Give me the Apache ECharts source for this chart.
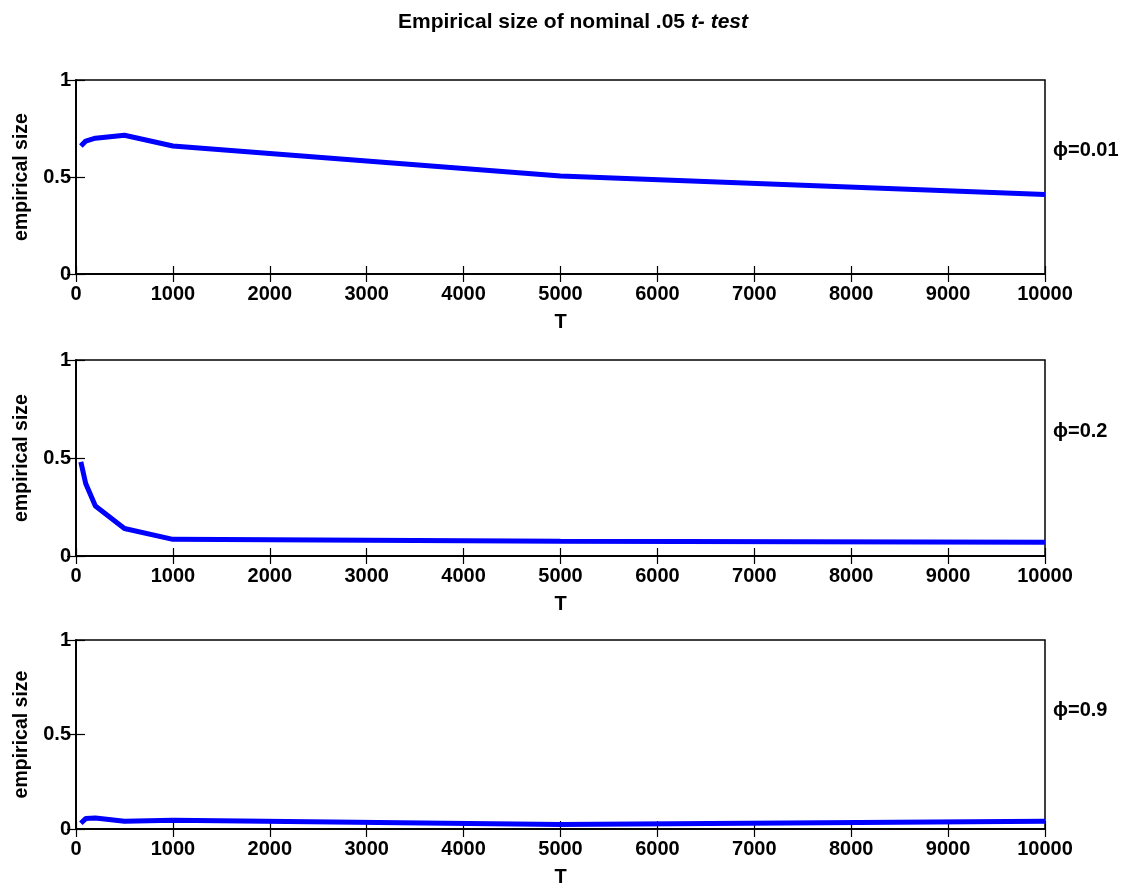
<!DOCTYPE html>
<html>
<head>
<meta charset="utf-8">
<script src="https://cdn.jsdelivr.net/npm/echarts@6/dist/echarts.min.js"></script>
<style>
html,body{margin:0;padding:0;background:#fff;}
#c{width:1124px;height:888px;}
</style>
</head>
<body>
<div id="c"></div>
<script>
const T = [50, 100, 200, 500, 1000, 5000, 10000];
const size_phi001 = [0.66, 0.685, 0.70, 0.715, 0.66, 0.505, 0.41];
const size_phi02 = [0.48, 0.37, 0.255, 0.14, 0.085, 0.075, 0.07];
const size_phi09 = [0.03, 0.055, 0.058, 0.041, 0.046, 0.024, 0.041];
const panelLabels = ['ϕ=0.01', 'ϕ=0.2', 'ϕ=0.9'];
const xTicks = [0, 10000, 1000];
const yTicks = [0, 1, 0.5];

const FONT = 'Liberation Sans, Arial, Helvetica, sans-serif';
const seriesData = [size_phi001, size_phi02, size_phi09];
const grids = [
  {left: 76, right: 79, top: 80, height: 194},
  {left: 76, right: 79, top: 360, height: 196},
  {left: 76, right: 79, top: 640, height: 194}
];
const labelTops = [135, 416, 695];

const xAxes = [], yAxes = [], series = [], titles = [];
titles.push({
  text: '{n|Empirical size of nominal .05 }{i|t- test}',
  left: 568, textAlign: 'center', top: 7,
  textStyle: {
    rich: {
      n: {fontFamily: FONT, fontSize: 21, fontWeight: 'bold', color: '#000'},
      i: {fontFamily: FONT, fontSize: 21, fontWeight: 'bold', fontStyle: 'italic', color: '#000'}
    }
  }
});
grids.forEach((g, i) => {
  g.show = true; g.borderColor = '#000'; g.borderWidth = 1.5; g.backgroundColor = '#fff';
  xAxes.push({
    type: 'value', gridIndex: i, min: xTicks[0], max: xTicks[1], interval: xTicks[2],
    position: 'bottom', name: 'T', nameLocation: 'middle', nameGap: 38,
    nameTextStyle: {fontFamily: FONT, fontSize: 20, fontWeight: 'bold', color: '#000'},
    axisLine: {show: true, lineStyle: {color: '#000', width: 1.5}},
    axisTick: {show: true, inside: true, length: 8, lineStyle: {color: '#000', width: 1.2}},
    axisLabel: {fontFamily: FONT, fontSize: 20, fontWeight: 'bold', color: '#000', margin: 10,
      formatter: v => String(v)},
    splitLine: {show: false}
  });
  xAxes.push({
    type: 'value', gridIndex: i, min: xTicks[0], max: xTicks[1], interval: xTicks[2],
    position: 'top',
    axisLine: {show: true, lineStyle: {color: '#000', width: 1.5}},
    axisTick: {show: true, inside: true, length: 8, lineStyle: {color: '#000', width: 1.2}},
    axisLabel: {show: false}, splitLine: {show: false}
  });
  yAxes.push({
    type: 'value', gridIndex: i, min: yTicks[0], max: yTicks[1], interval: yTicks[2],
    position: 'left', name: 'empirical size', nameLocation: 'middle', nameGap: 44, nameRotate: 90,
    nameTextStyle: {fontFamily: FONT, fontSize: 19.5, fontWeight: 'bold', color: '#000'},
    axisLine: {show: true, lineStyle: {color: '#000', width: 1.5}},
    axisTick: {show: true, inside: true, length: 9, lineStyle: {color: '#000', width: 1.2}},
    axisLabel: {fontFamily: FONT, fontSize: 20, fontWeight: 'bold', color: '#000', margin: 5},
    splitLine: {show: false}
  });
  yAxes.push({
    type: 'value', gridIndex: i, min: yTicks[0], max: yTicks[1], interval: yTicks[2],
    position: 'right',
    axisLine: {show: true, lineStyle: {color: '#000', width: 1.5}},
    axisTick: {show: true, inside: true, length: 9, lineStyle: {color: '#000', width: 1.2}},
    axisLabel: {show: false}, splitLine: {show: false}
  });
  series.push({
    type: 'line', xAxisIndex: 2 * i, yAxisIndex: 2 * i,
    data: T.map((t, k) => [t, seriesData[i][k]]),
    showSymbol: false, symbol: 'none', smooth: false,
    lineStyle: {color: '#0000ff', width: 5}, z: 3, animation: false
  });
  titles.push({
    text: panelLabels[i], left: 1048, top: labelTops[i],
    textStyle: {fontFamily: FONT, fontSize: 20, fontWeight: 'bold', color: '#000'}
  });
});

const chart = echarts.init(document.getElementById('c'), null, {renderer: 'canvas'});
chart.setOption({
  animation: false,
  backgroundColor: '#fff',
  title: titles,
  grid: grids,
  xAxis: xAxes,
  yAxis: yAxes,
  series: series
});
</script>
</body>
</html>
